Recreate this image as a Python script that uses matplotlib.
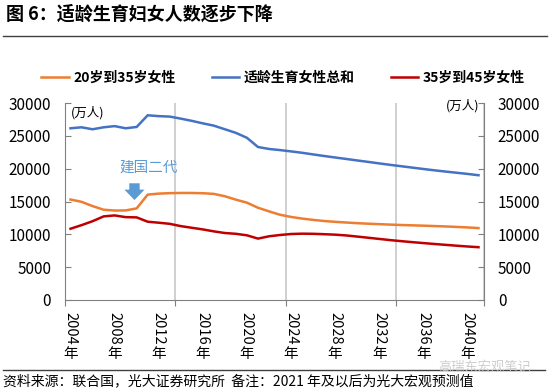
import matplotlib
matplotlib.use("Agg")
import matplotlib.pyplot as plt
from matplotlib.lines import Line2D
from matplotlib.transforms import blended_transform_factory

plt.rcParams['font.family'] = ['Noto Sans CJK SC', 'DejaVu Sans']

# data (万人), 2004-2041, 2021年及以后为预测值
years = list(range(2004, 2042))
total = [26150, 26300, 26000, 26300, 26480, 26150, 26350, 28130, 28000, 27930,
         27620, 27280, 26900, 26550, 26000, 25450, 24700, 23300, 23000, 22830,
         22630, 22420, 22170, 21930, 21700, 21480, 21250, 21030, 20800, 20580,
         20370, 20160, 19950, 19750, 19560, 19380, 19200, 19000]
age20_35 = [15300, 14950, 14300, 13750, 13620, 13640, 13950, 16050, 16200, 16270,
            16300, 16300, 16260, 16160, 15800, 15280, 14820, 14050, 13500, 12980,
            12650, 12400, 12200, 12030, 11900, 11800, 11700, 11620, 11550, 11480,
            11420, 11370, 11320, 11260, 11200, 11130, 11050, 10950]
age35_45 = [10850, 11400, 12000, 12730, 12880, 12620, 12580, 11920, 11770, 11600,
            11250, 11000, 10750, 10450, 10200, 10080, 9850, 9350, 9700, 9900,
            10050, 10100, 10080, 10020, 9950, 9830, 9660, 9480, 9300, 9120,
            8960, 8810, 8670, 8530, 8400, 8270, 8150, 8040]
label_years = list(range(2004, 2041, 4))
yticks = [0, 5000, 10000, 15000, 20000, 25000, 30000]

c_orange = '#ED7D31'
c_blue = '#4472C4'
c_red = '#C00000'
c_note = '#5B9BD5'

fig = plt.figure(figsize=(5.5, 3.92), dpi=100)
ax = fig.add_axes([65/550, 1-300/392, 419/550, 197/392])

ax.plot(years, total, color=c_blue, lw=1.8)
ax.plot(years, age20_35, color=c_orange, lw=1.8)
ax.plot(years, age35_45, color=c_red, lw=1.8)

ax.set_xlim(years[0]-0.5, years[-1]+0.5)
ax.set_ylim(0, 30000)
ax.set_yticks(yticks)
ax.yaxis.set_ticks_position('both')
ax.tick_params(axis='y', labelleft=True, labelright=True, direction='in',
               length=4, color='#808080', pad=10, labelsize=11)
ax.set_xticks([years[0]-0.5, years[0]+9.5, years[0]+19.5, years[0]+29.5, years[-1]+0.5])
ax.tick_params(axis='x', direction='out', length=4, color='#808080', labelbottom=False)
ax.grid(axis='x', color='#C8C8C8', lw=1.2)
ax.spines['top'].set_visible(False)
for s in ['left', 'right', 'bottom']:
    ax.spines[s].set_color('#808080')

# x labels: digits rotated, 年 upright
tr = blended_transform_factory(ax.transData, ax.transAxes)
for yr in label_years:
    ax.text(yr, -0.06, str(yr), transform=tr, rotation=270, ha='center', va='top',
            fontsize=10.5)
    ax.text(yr, -0.24, '年', transform=tr, ha='center', va='top', fontsize=10.5)

ax.text(0.015, 0.985, '(万人)', transform=ax.transAxes, ha='left', va='top', fontsize=9)
ax.text(0.99, 1.02, '(万人)', transform=ax.transAxes, ha='right', va='top', fontsize=9)

ax.text(2011.1, 20100, '建国二代', color=c_note, ha='center', va='center', fontsize=10.5)
ax.annotate('', xy=(2009.8, 14800), xytext=(2009.8, 18200),
            arrowprops=dict(arrowstyle='simple,head_width=1.45,head_length=0.75,tail_width=0.75',
                            fc=c_note, ec='none'))

handles = [Line2D([], [], color=c_orange, lw=1.8),
           Line2D([], [], color=c_blue, lw=1.8),
           Line2D([], [], color=c_red, lw=1.8)]
labels = ['20岁到35岁女性', '适龄生育女性总和', '35岁到45岁女性']
fig.legend(handles, labels, loc='center', bbox_to_anchor=(283/550, 1-78/392), ncol=3,
           frameon=False, handlelength=2.0, handletextpad=0.3, columnspacing=2.6,
           prop={'weight': 'bold', 'size': 10})

fig.text(0.01, 1-14/392, '图 6：适龄生育妇女人数逐步下降', fontsize=13, fontweight='bold',
         ha='left', va='center')
fig.add_artist(Line2D([0.005, 0.995], [1-36/392, 1-36/392], color='#404040', lw=1))
fig.add_artist(Line2D([0.005, 0.99], [1-370/392, 1-370/392], color='#404040', lw=1))
fig.text(0.005, 1-381/392, '资料来源：联合国，光大证券研究所  备注：2021 年及以后为光大宏观预测值',
         fontsize=10, ha='left', va='center')
fig.text(438/550, 1-367/392, '高瑞东宏观笔记', fontsize=9.5, color='#C8C8C8', alpha=0.9,
         ha='left', va='center')

fig.savefig('out.png', dpi=100)
